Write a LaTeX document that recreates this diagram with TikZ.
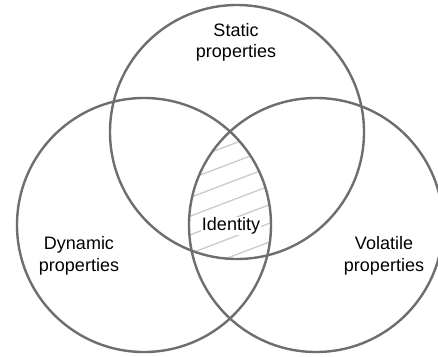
\documentclass[tikz,border=0pt]{standalone}
\usepackage{fontspec}
\setmainfont{Liberation Sans}
\begin{document}
\begin{tikzpicture}[x=1pt,y=-1pt,
  venn/.style={circle,draw=vennline,line width=2.4pt,minimum size=254pt,inner sep=0pt,outer sep=0pt},
  hatch/.style={draw=hatchline,line width=1.2pt},
  lbl/.style={align=center,font=\fontsize{18}{21.6}\selectfont,text=black,inner sep=0pt}]
\definecolor{vennline}{HTML}{6E6E6E}
\definecolor{hatchline}{HTML}{C8C8C8}
\useasboundingbox (0,0) rectangle (438,356);
\clip (0,0) rectangle (438,356);
\fill[white] (0,0) rectangle (438,356);
% hatching of the common region
\begin{scope}
  \clip (237,132) circle (127pt);
  \clip (144,225) circle (127pt);
  \clip (316,225) circle (127pt);
  \foreach \b in {145,163.7,182.3,201,219.7,238.3,257}{
    \draw[hatch] (170,{\b+22.8}) -- (290,{\b-22.8});
  }
\end{scope}
\node[venn] (T) at (237,132) {};
\node[venn] (L) at (144,225) {};
\node[venn] (R) at (316,225) {};
\node[lbl] (st) at (236,42.5) {Static\\properties};
\node[lbl] (dy) at (79,256) {Dynamic\\properties};
\node[lbl] (vo) at (384,256) {Volatile\\properties};
\node[lbl,fill=white,inner sep=1pt] (id) at (231,226) {Identity};
\end{tikzpicture}
\end{document}
